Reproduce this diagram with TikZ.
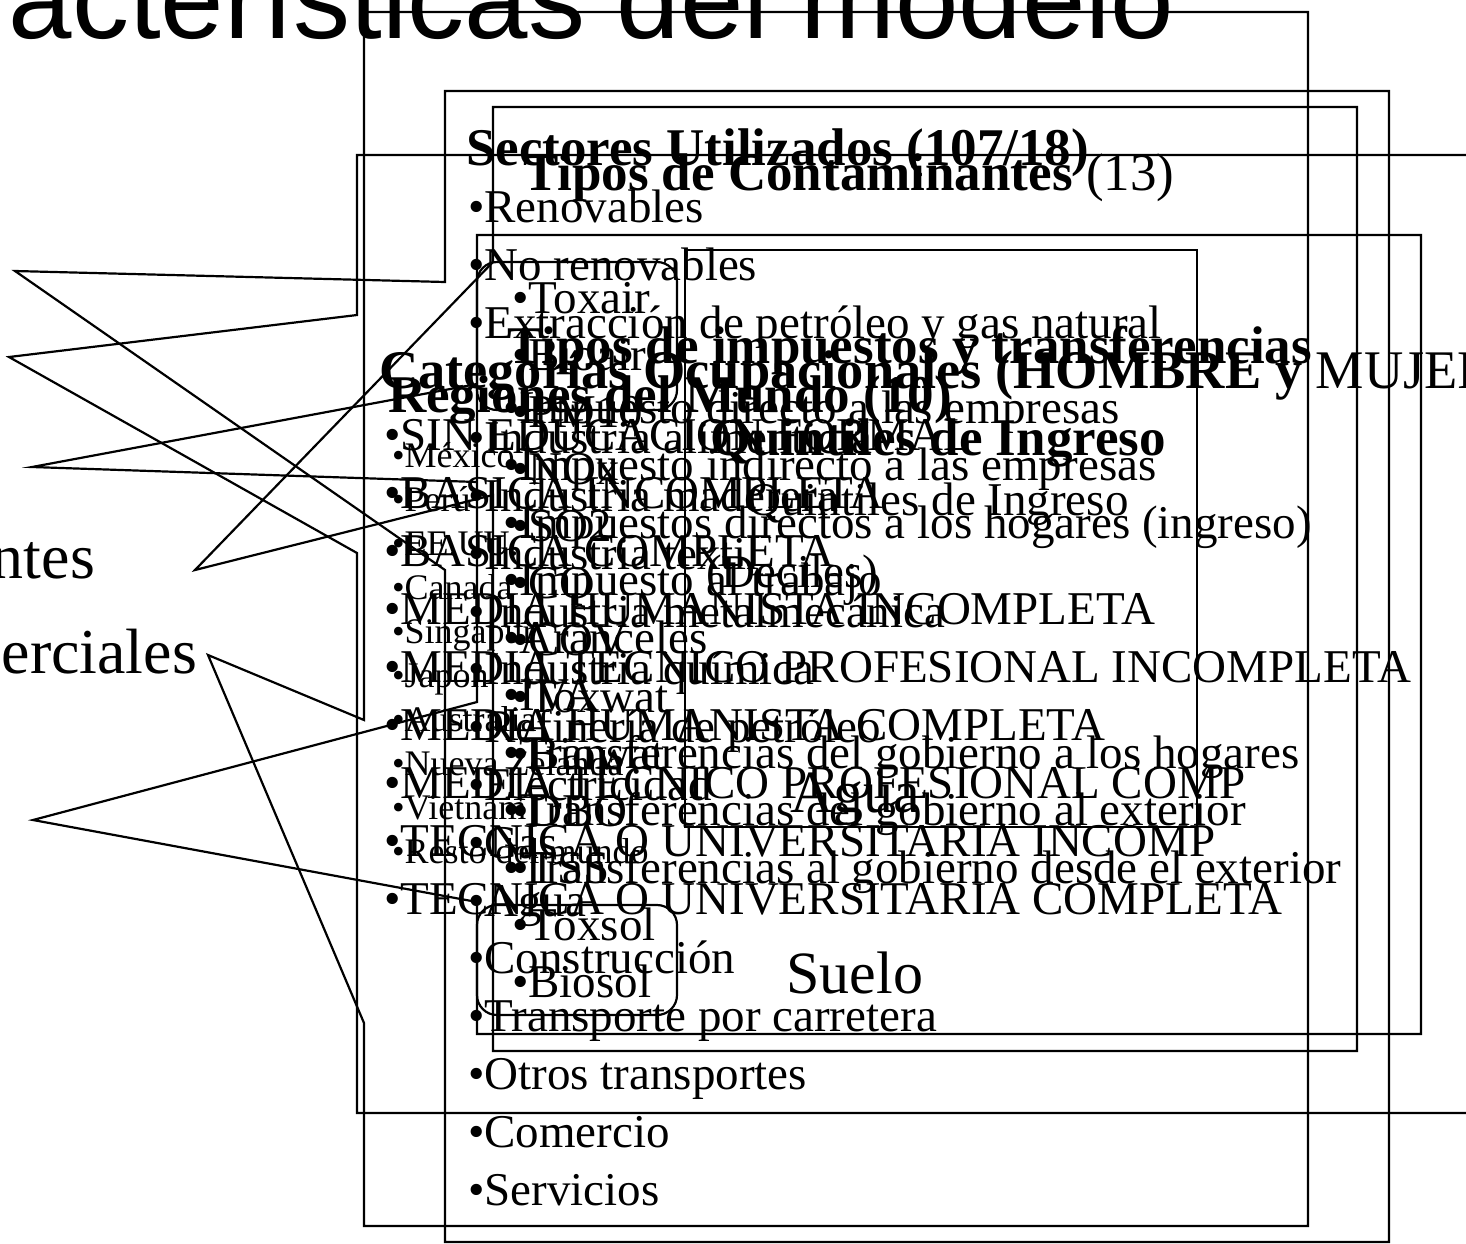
\documentclass[tikz,border=0pt]{standalone}
\usepackage{fontspec}
\setmainfont{Liberation Serif}
\newfontfamily\arialfont{Liberation Sans}
\newcommand\fitem{\fontsize{23.5}{28}\selectfont}
\newcommand\fhead{\fontsize{26.5}{32}\selectfont\bfseries}
\newcommand\fcat{\fontsize{27.2}{32}\selectfont\bfseries}
\newcommand\fsmall{\fontsize{18}{21}\selectfont}
\newcommand\fleft{\fontsize{32}{38}\selectfont}
\newcommand\fmedia{\fontsize{30}{36}\selectfont}
\newcommand\ftitle{\arialfont\fontsize{57}{68}\selectfont}
\begin{document}
\begin{tikzpicture}[x=0.5pt,y=-0.5pt,
  box/.style={draw=black, line width=1.1pt, line join=miter},
  item/.style={anchor=base west, inner sep=0pt, outer sep=0pt, font=\fitem},
  small/.style={anchor=base west, inner sep=0pt, outer sep=0pt, font=\fsmall},
  head/.style={anchor=base west, inner sep=0pt, outer sep=0pt, font=\fhead},
  lefttext/.style={anchor=base east, inner sep=0pt, outer sep=0pt, font=\fleft}]
\useasboundingbox (0,0) rectangle (1466,1243);
\clip (0,0) rectangle (1466,1243);

% title and left list
\node[anchor=base east, inner sep=0pt, font=\ftitle] (title) at (1175,38) {Características del modelo};
\node[lefttext] (lcont) at (95,578) {Contaminantes};
\node[lefttext] (lcom) at (197,673) {Acuerdos comerciales};

% boxes with callout pointers
\draw[box] (364,720) -- (208,655) -- (364,1023) -- (364,1226) -- (1308,1226) -- (1308,12) -- (364,12) -- cycle;
\draw[box] (445,282) -- (15,271) -- (445,570) -- (445,1242) -- (1389,1242) -- (1389,91) -- (445,91) -- cycle;
\draw[box] (493,262) -- (195,570) -- (493,495) -- (493,1051) -- (1357,1051) -- (1357,107) -- (493,107) -- cycle;
\draw[box] (357,315) -- (9,357) -- (357,553) -- (357,1113) -- (1520,1113) -- (1520,155) -- (357,155) -- cycle;
\draw[box] (477,702) -- (33,820) -- (477,902) -- (477,1034) -- (1421,1034) -- (1421,235) -- (477,235) -- cycle;
\draw[box] (685,250) rectangle (1197,827);
\draw[box, rounded corners=10pt] (477,262) rectangle (677,410);
\draw[box, rounded corners=10pt] (477,905) rectangle (677,1015);
\draw[box] (477,384) -- (32,467) -- (477,482);

% Sectores
\node[head] (sectitle) at (466,165) {Sectores Utilizados (107/18)};
\foreach \yy/\lab [count=\n] in {222/Renovables,280/No renovables,338/Extracción de petróleo y gas natural,453/Industria alimenticia,511/Industria maderera,569/Industria textil,627/Industria metalmecánica,684/Industria química,742/Refinería de petróleo,800/Electricidad,858/Gas,916/Agua,973/Construcción,1031/Transporte por carretera,1089/Otros transportes,1147/Comercio,1205/Servicios}
  \node[item] (sec\n) at (468,\yy) {•\lab};

% Contaminantes
\node[head] (contitle) at (523,190) {Tipos de Contaminantes \mdseries(13)};
\foreach \lab [count=\n from 0] in {Toxair,Bioair,PM10,NOx,SO2,CO,COV,Toxwat,Biowat,DBO,TSS,Toxsol,Biosol}
  \node[item] (con\n) at (512,{313+57*\n}) {•\lab};
\node[anchor=base west, inner sep=0pt, font=\fmedia] (agua) at (790,812) {Agua};
\node[anchor=base west, inner sep=0pt, font=\fmedia] (suelo) at (786,993) {Suelo};

% Impuestos
\node[head] (taxtitle) at (507,363) {Tipos de impuestos y transferencias};
\foreach \lab [count=\n from 0] in {Impuesto directo a las empresas,Impuesto indirecto a las empresas,Impuestos directos a los hogares (ingreso),Impuesto al trabajo,Aranceles,IVA,Transferencias del gobierno a los hogares,Transferencias del gobierno al exterior,Transferencias al gobierno desde el exterior}
  \node[item] (tax\n) at (503,{423+57.5*\n}) {•\lab};

% Categorias ocupacionales
\node[anchor=base west, inner sep=0pt, outer sep=0pt, font=\fcat] (cattitle) at (379,388) {Categorías Ocupacionales (HOMBRE y \mdseries MUJER)};
\foreach \lab [count=\n from 0] in {SIN EDUCACION FORMAL,BASICA INCOMPLETA,BASICA COMPLETA,MEDIA HUMANISTA INCOMPLETA,MEDIA TECNICO PROFESIONAL INCOMPLETA,MEDIA HUMANISTA COMPLETA,MEDIA TECNICO PROFESIONAL COMP,TECNICA O UNIVERSITARIA INCOMP,TECNICA O UNIVERSITARIA COMPLETA}
  \node[item] (cat\n) at (384,{450+58*\n}) {•\lab};

% Regiones
\node[head] (regtitle) at (388,412) {Regiones del Mundo (10)};
\foreach \lab [count=\n from 0] in {México,Perú,EE.UU.,Canada,Singapur,Japon,Australia,Nueva Zelanda,Vietnam,Resto del mundo}
  \node[small] (reg\n) at (392,{467+44*\n}) {•\lab};

% Quintiles
\node[anchor=base, inner sep=0pt, font=\fhead] (quititle) at (938,455) {Quintiles de Ingreso};
\node[anchor=base, inner sep=0pt, font=\fitem] (quitext) at (938,515) {Quintiles de Ingreso};
\node[item] (deciles) at (706,587) {(Deciles)};
\end{tikzpicture}
\end{document}
